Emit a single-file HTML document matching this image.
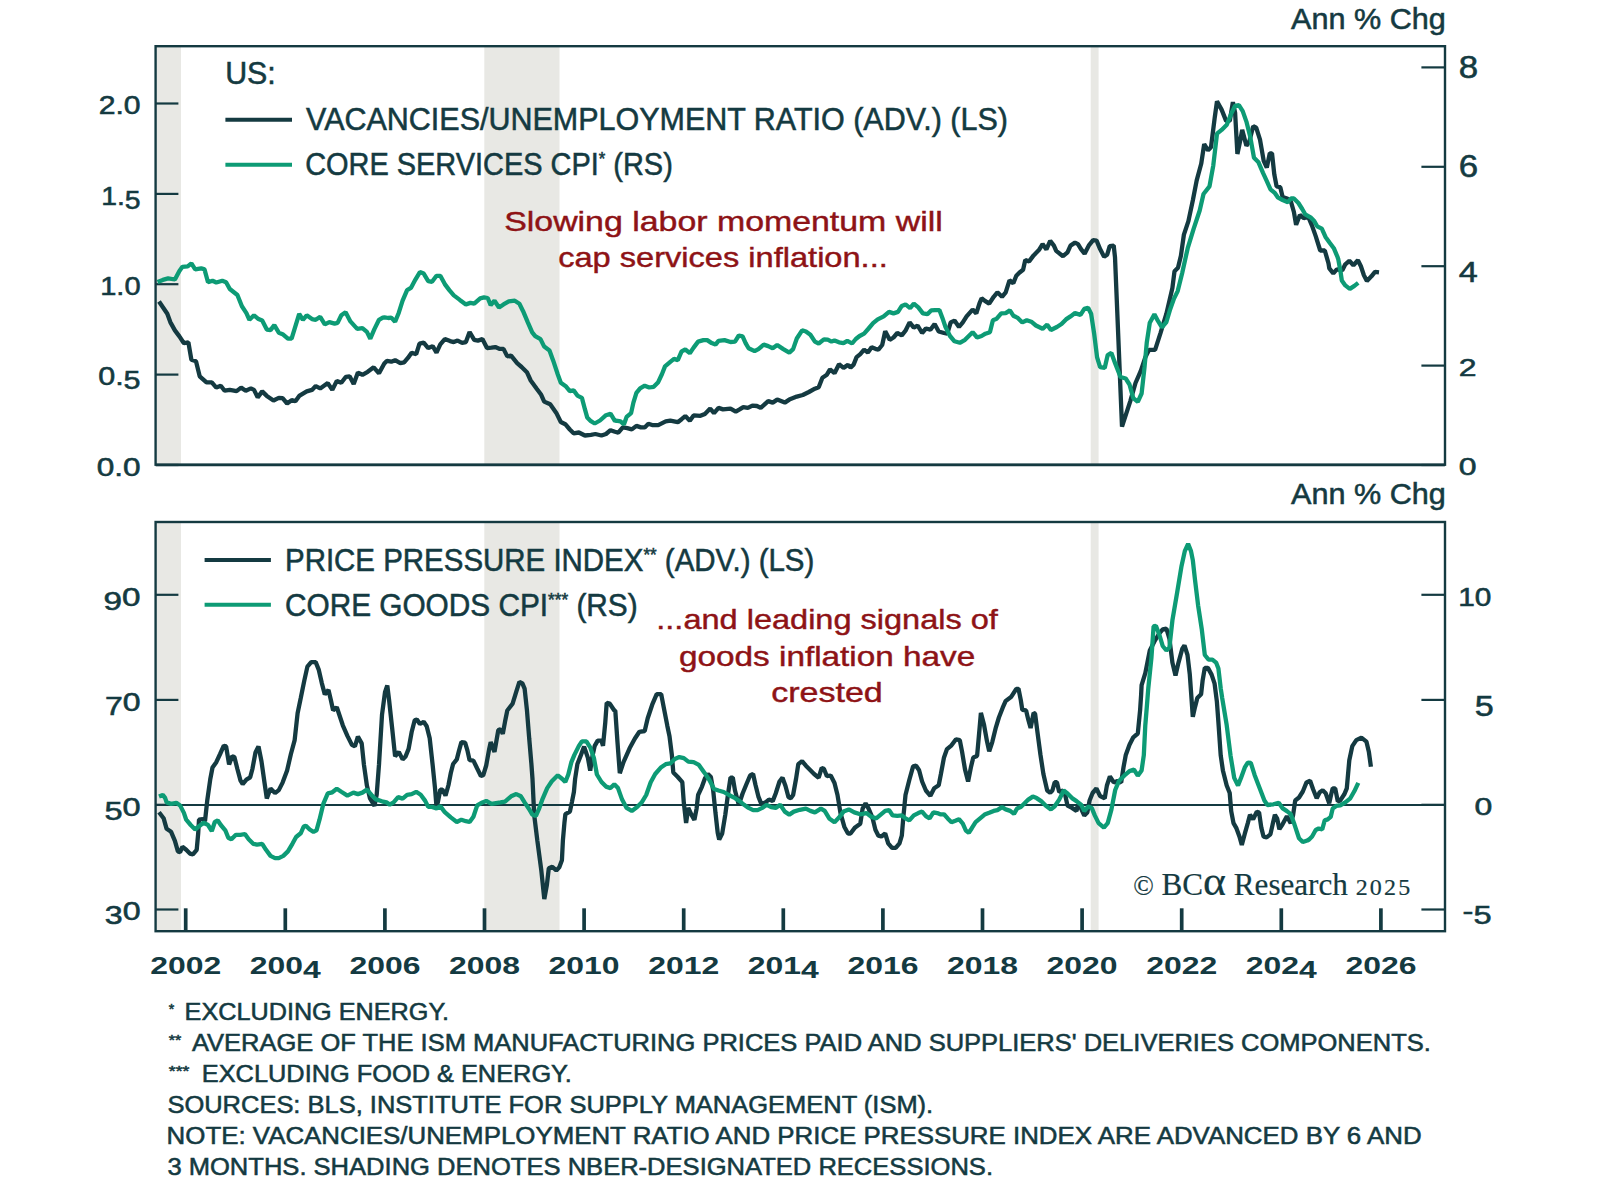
<!DOCTYPE html>
<html lang="en"><head><meta charset="utf-8"><title>US inflation chart</title>
<style>html,body{margin:0;padding:0;background:#fff;overflow:hidden}svg{display:block}text{font-family:"Liberation Sans",sans-serif;fill:#143a41;stroke:#143a41;stroke-width:.55px}.ser{font-family:"Liberation Serif",serif;stroke-width:.2px}.red{fill:#8e1316;stroke:#8e1316;stroke-width:.45px}.b{font-weight:bold;stroke-width:0}.ln{fill:none;stroke-linejoin:bevel;stroke-linecap:butt}</style></head><body>
<svg width="1600" height="1195" viewBox="0 0 1600 1195">
<rect width="1600" height="1195" fill="#fff"/>
<rect x="156.8" y="46.2" width="24.2" height="418.5" fill="#e8e8e4"/>
<rect x="484.3" y="46.2" width="75.2" height="418.5" fill="#e8e8e4"/>
<rect x="1090.7" y="46.2" width="7.9" height="418.5" fill="#e8e8e4"/>
<rect x="156.8" y="522.0" width="24.2" height="409.2" fill="#e8e8e4"/>
<rect x="484.3" y="522.0" width="75.2" height="409.2" fill="#e8e8e4"/>
<rect x="1090.7" y="522.0" width="7.9" height="409.2" fill="#e8e8e4"/>
<line x1="156.0" y1="103.5" x2="178.4" y2="103.5" stroke="#143a41" stroke-width="2.2"/>
<line x1="156.0" y1="193.9" x2="178.4" y2="193.9" stroke="#143a41" stroke-width="2.2"/>
<line x1="156.0" y1="284.2" x2="178.4" y2="284.2" stroke="#143a41" stroke-width="2.2"/>
<line x1="156.0" y1="374.6" x2="178.4" y2="374.6" stroke="#143a41" stroke-width="2.2"/>
<line x1="156.0" y1="465.0" x2="178.4" y2="465.0" stroke="#143a41" stroke-width="2.2"/>
<line x1="156.0" y1="594.8" x2="178.4" y2="594.8" stroke="#143a41" stroke-width="2.2"/>
<line x1="156.0" y1="699.9" x2="178.4" y2="699.9" stroke="#143a41" stroke-width="2.2"/>
<line x1="156.0" y1="804.8" x2="178.4" y2="804.8" stroke="#143a41" stroke-width="2.2"/>
<line x1="156.0" y1="909.5" x2="178.4" y2="909.5" stroke="#143a41" stroke-width="2.2"/>
<line x1="1421.4" y1="67.4" x2="1444.5" y2="67.4" stroke="#143a41" stroke-width="2.2"/>
<line x1="1421.4" y1="166.8" x2="1444.5" y2="166.8" stroke="#143a41" stroke-width="2.2"/>
<line x1="1421.4" y1="266.2" x2="1444.5" y2="266.2" stroke="#143a41" stroke-width="2.2"/>
<line x1="1421.4" y1="365.6" x2="1444.5" y2="365.6" stroke="#143a41" stroke-width="2.2"/>
<line x1="1421.4" y1="465.0" x2="1444.5" y2="465.0" stroke="#143a41" stroke-width="2.2"/>
<line x1="1421.4" y1="594.8" x2="1444.5" y2="594.8" stroke="#143a41" stroke-width="2.2"/>
<line x1="1421.4" y1="699.9" x2="1444.5" y2="699.9" stroke="#143a41" stroke-width="2.2"/>
<line x1="1421.4" y1="804.8" x2="1444.5" y2="804.8" stroke="#143a41" stroke-width="2.2"/>
<line x1="1421.4" y1="909.5" x2="1444.5" y2="909.5" stroke="#143a41" stroke-width="2.2"/>
<line x1="155.6" y1="465.0" x2="1445.0" y2="465.0" stroke="#143a41" stroke-width="2.6"/>
<line x1="155.6" y1="805.0" x2="1445.0" y2="805.0" stroke="#143a41" stroke-width="2.2"/>
<line x1="185.7" y1="908.3" x2="185.7" y2="931.2" stroke="#143a41" stroke-width="3.7"/>
<line x1="285.3" y1="908.3" x2="285.3" y2="931.2" stroke="#143a41" stroke-width="3.7"/>
<line x1="384.9" y1="908.3" x2="384.9" y2="931.2" stroke="#143a41" stroke-width="3.7"/>
<line x1="484.5" y1="908.3" x2="484.5" y2="931.2" stroke="#143a41" stroke-width="3.7"/>
<line x1="584.1" y1="908.3" x2="584.1" y2="931.2" stroke="#143a41" stroke-width="3.7"/>
<line x1="683.7" y1="908.3" x2="683.7" y2="931.2" stroke="#143a41" stroke-width="3.7"/>
<line x1="783.3" y1="908.3" x2="783.3" y2="931.2" stroke="#143a41" stroke-width="3.7"/>
<line x1="882.9" y1="908.3" x2="882.9" y2="931.2" stroke="#143a41" stroke-width="3.7"/>
<line x1="982.5" y1="908.3" x2="982.5" y2="931.2" stroke="#143a41" stroke-width="3.7"/>
<line x1="1082.1" y1="908.3" x2="1082.1" y2="931.2" stroke="#143a41" stroke-width="3.7"/>
<line x1="1181.7" y1="908.3" x2="1181.7" y2="931.2" stroke="#143a41" stroke-width="3.7"/>
<line x1="1281.3" y1="908.3" x2="1281.3" y2="931.2" stroke="#143a41" stroke-width="3.7"/>
<line x1="1380.9" y1="908.3" x2="1380.9" y2="931.2" stroke="#143a41" stroke-width="3.7"/>
<path class="ln" d="M159.0 301.5 L167.3 313.8 L170.3 322.1 L174.9 330.4 L179.4 336.4 L183.9 343.2 L188.4 342.4 L191.4 359.8 L196.0 361.3 L199.7 376.3 L206.5 382.4 L211.8 382.4 L216.3 387.6 L220.8 385.8 L224.6 390.7 L229.8 389.9 L236.6 391.1 L241.1 387.6 L245.7 390.7 L250.9 388.4 L254.0 389.9 L257.7 397.4 L262.2 391.4 L266.8 395.9 L273.5 400.5 L278.8 397.9 L282.6 398.2 L287.1 403.5 L291.6 400.2 L295.4 401.2 L299.2 395.9 L306.7 391.4 L312.0 389.9 L315.7 386.1 L320.2 388.4 L327.8 383.1 L332.3 389.9 L336.8 380.9 L341.3 382.8 L345.9 376.8 L349.6 376.3 L353.7 383.9 L357.9 372.6 L362.4 374.8 L367.7 371.8 L373.7 367.3 L379.0 373.3 L384.3 363.5 L386.8 360.9 L391.3 361.7 L395.1 360.2 L400.3 363.2 L404.1 362.4 L407.9 357.9 L411.6 352.7 L416.2 354.2 L419.5 343.6 L423.7 342.6 L428.2 348.1 L432.7 346.2 L436.5 352.7 L440.3 344.4 L444.8 339.1 L450.1 341.1 L453.8 342.1 L457.6 340.6 L462.1 342.9 L465.9 342.1 L469.6 332.0 L474.2 339.8 L477.9 340.6 L482.4 339.1 L487.0 348.1 L491.5 347.7 L495.3 347.1 L499.8 348.9 L503.5 348.9 L507.3 356.4 L511.1 355.7 L517.1 363.2 L521.6 367.0 L526.9 372.2 L530.7 380.5 L536.7 388.8 L541.2 394.8 L544.2 401.6 L550.2 404.3 L556.3 412.9 L560.8 422.0 L565.3 424.2 L569.8 429.5 L573.6 433.3 L578.9 432.5 L584.9 435.5 L590.9 434.8 L595.4 434.0 L601.5 435.5 L606.0 434.0 L610.5 430.2 L615.0 431.8 L618.3 432.7 L622.8 427.4 L627.3 428.2 L631.8 429.4 L636.4 425.9 L640.9 427.4 L644.7 427.4 L648.4 423.7 L652.9 425.2 L658.2 425.2 L665.7 421.4 L670.3 420.7 L674.0 421.4 L677.8 422.2 L681.6 419.2 L685.3 416.1 L689.8 420.7 L693.6 415.4 L700.4 415.8 L704.9 413.9 L710.2 408.6 L714.0 413.1 L718.5 407.9 L723.0 409.4 L730.5 408.6 L735.8 411.6 L739.6 409.4 L743.3 407.1 L747.9 407.9 L752.4 405.6 L756.9 406.0 L760.7 407.9 L768.2 401.1 L772.7 402.6 L777.2 399.6 L784.8 402.6 L789.3 399.6 L796.8 396.6 L802.8 395.0 L808.9 392.0 L814.9 388.7 L818.7 387.2 L822.4 377.7 L826.9 374.7 L830.0 369.4 L834.5 373.2 L839.0 364.2 L843.5 367.9 L848.0 364.9 L850.5 367.6 L853.6 364.6 L856.6 357.1 L860.3 354.1 L864.1 349.6 L867.9 352.6 L871.6 347.3 L875.4 348.8 L878.4 349.6 L882.2 345.0 L885.2 331.2 L889.7 339.8 L893.5 337.5 L897.3 333.0 L901.8 335.3 L905.5 330.7 L909.6 322.4 L913.8 327.7 L917.6 325.5 L922.1 333.0 L925.9 328.5 L930.4 329.7 L934.6 324.0 L938.7 331.5 L944.0 333.0 L947.3 333.7 L950.7 322.4 L954.5 320.6 L959.0 327.0 L962.8 322.4 L966.6 316.4 L972.6 309.6 L976.3 313.4 L979.4 303.6 L981.6 298.3 L984.6 300.6 L989.2 303.6 L993.7 296.8 L997.4 292.3 L1002.0 296.8 L1005.7 292.3 L1009.5 280.3 L1013.3 283.3 L1016.3 275.7 L1019.3 272.7 L1023.1 269.7 L1025.3 259.9 L1029.1 261.4 L1033.6 255.4 L1038.9 250.1 L1042.6 244.1 L1046.4 249.4 L1050.2 240.8 L1053.9 245.6 L1056.2 250.9 L1063.0 256.2 L1067.5 252.4 L1070.5 245.6 L1075.0 242.6 L1078.0 244.1 L1081.0 249.1 L1084.6 253.7 L1089.1 245.1 L1093.1 240.1 L1096.6 240.6 L1100.1 249.1 L1104.1 256.7 L1107.2 254.7 L1109.7 246.1 L1113.7 245.6 L1115.0 257.2 L1122.0 426.7 L1130.3 401.1 L1135.5 383.0 L1140.8 370.9 L1145.3 357.4 L1149.1 349.8 L1155.1 349.8 L1160.4 333.3 L1166.4 313.7 L1172.4 288.1 L1174.5 271.2 L1178.0 267.7 L1180.9 255.7 L1183.9 234.6 L1188.4 221.1 L1192.9 200.0 L1196.7 180.4 L1201.2 163.8 L1204.2 144.2 L1208.0 150.3 L1211.0 147.3 L1214.8 117.1 L1217.0 101.3 L1221.6 109.6 L1226.1 120.9 L1229.8 120.9 L1232.9 102.1 L1235.1 112.6 L1237.4 154.0 L1240.4 139.7 L1242.2 129.9 L1246.4 145.7 L1249.4 141.2 L1253.2 126.2 L1256.2 127.7 L1260.0 139.7 L1263.7 160.8 L1266.8 167.6 L1269.8 153.3 L1272.0 153.3 L1274.3 174.4 L1276.6 186.4 L1280.3 187.2 L1282.6 197.0 L1287.1 198.5 L1290.9 201.5 L1293.9 212.0 L1296.1 224.8 L1299.9 215.0 L1303.7 218.1 L1308.2 216.6 L1312.0 225.6 L1315.7 236.1 L1320.2 250.5 L1324.8 250.5 L1328.5 263.3 L1329.3 268.3 L1333.3 273.3 L1336.8 269.3 L1342.3 270.3 L1345.3 264.3 L1349.3 260.8 L1353.4 265.3 L1357.9 260.3 L1360.9 266.3 L1363.9 275.3 L1366.9 280.9 L1371.4 276.3 L1375.0 271.8 L1379.0 272.3" stroke="#143a41" stroke-width="4.3"/>
<path class="ln" d="M157.5 281.9 L162.8 279.9 L168.1 278.4 L174.9 279.5 L179.4 270.9 L182.4 266.8 L187.7 266.4 L191.4 263.4 L195.2 269.4 L201.2 268.3 L204.5 269.4 L208.0 282.2 L212.5 280.7 L216.3 282.5 L222.3 280.7 L226.1 282.2 L229.8 289.0 L237.4 295.0 L241.9 306.3 L246.4 313.1 L249.4 319.8 L254.0 315.3 L258.5 319.1 L262.2 320.6 L266.8 329.6 L270.5 330.1 L274.3 325.1 L278.8 332.7 L282.6 334.2 L287.9 338.7 L291.6 338.7 L294.6 328.9 L299.2 313.8 L302.9 319.8 L306.7 315.3 L312.0 319.1 L315.7 319.8 L320.2 316.8 L324.8 324.4 L329.3 322.1 L334.6 323.6 L337.6 322.9 L341.3 315.3 L345.6 312.3 L350.4 321.4 L357.2 328.9 L362.4 328.1 L366.9 331.9 L370.3 338.7 L374.5 328.9 L379.0 319.8 L382.8 317.6 L384.5 317.3 L388.3 318.0 L391.3 317.6 L395.1 321.8 L398.8 312.7 L402.6 300.7 L407.1 290.1 L410.9 287.9 L415.4 279.6 L419.9 272.1 L423.7 273.6 L428.2 281.1 L432.0 281.8 L436.5 275.8 L440.3 275.8 L444.8 284.1 L449.3 290.1 L453.8 295.4 L459.8 299.9 L465.9 304.4 L470.4 302.9 L474.2 303.7 L480.2 298.4 L484.0 297.4 L487.7 298.0 L490.7 305.2 L494.5 300.7 L499.0 307.5 L503.5 304.4 L508.8 301.4 L514.8 300.7 L519.4 303.7 L523.1 311.2 L527.6 321.8 L532.2 332.3 L535.2 336.1 L540.5 339.1 L544.2 346.6 L549.5 350.4 L553.3 360.9 L557.8 374.5 L560.8 382.8 L566.1 386.6 L569.8 391.1 L573.6 390.3 L577.4 395.6 L581.9 397.9 L584.9 409.2 L587.2 417.4 L590.9 421.2 L594.7 423.5 L600.0 420.5 L606.0 415.2 L610.5 413.7 L615.0 421.2 L616.0 420.7 L620.5 421.4 L623.9 424.4 L626.6 416.9 L631.1 413.1 L633.4 402.6 L636.4 392.8 L640.1 388.3 L644.7 385.7 L649.2 387.5 L653.7 386.8 L658.2 382.2 L662.0 374.0 L665.0 366.4 L670.3 361.9 L674.0 358.9 L677.8 360.1 L681.6 351.4 L685.3 349.5 L689.8 353.2 L693.6 347.6 L698.1 341.6 L703.4 340.1 L707.2 340.1 L711.7 343.1 L715.5 344.6 L718.5 340.8 L724.5 340.1 L730.5 342.0 L735.0 341.6 L738.8 335.5 L742.6 336.3 L745.6 343.1 L748.6 348.3 L754.6 351.1 L758.4 349.1 L763.7 344.6 L768.2 346.1 L772.7 348.3 L777.2 345.0 L783.3 349.1 L789.3 352.6 L793.1 349.1 L796.8 338.5 L802.1 330.3 L805.9 331.5 L810.4 334.8 L814.9 341.6 L818.7 343.5 L823.9 339.3 L827.7 339.6 L831.5 341.6 L834.5 340.5 L839.0 342.3 L843.5 343.1 L847.3 340.8 L852.1 343.5 L855.8 339.0 L859.6 336.0 L864.1 333.7 L868.6 328.5 L873.1 323.2 L877.7 319.4 L883.7 316.4 L889.0 311.9 L893.5 313.4 L898.0 311.9 L901.8 305.9 L905.5 304.4 L910.1 308.1 L913.8 303.6 L918.3 307.4 L922.9 313.4 L927.4 314.2 L931.1 310.4 L934.9 310.1 L939.4 310.1 L942.4 317.9 L945.5 327.0 L950.0 336.0 L954.5 341.3 L959.8 342.8 L965.0 339.8 L968.8 336.0 L972.6 332.2 L977.1 337.5 L981.6 336.0 L985.4 333.7 L989.9 332.2 L992.9 320.2 L996.7 318.7 L1001.2 313.4 L1005.7 313.1 L1009.9 310.4 L1013.3 315.7 L1017.8 317.9 L1022.3 322.4 L1026.8 320.2 L1031.3 321.7 L1035.9 325.5 L1042.6 328.8 L1047.2 324.7 L1050.9 330.0 L1056.9 327.0 L1061.5 324.0 L1066.0 319.4 L1070.5 316.4 L1075.0 313.1 L1080.5 314.9 L1084.3 308.9 L1088.1 307.7 L1091.1 313.7 L1094.1 333.3 L1097.1 357.4 L1100.1 367.2 L1104.7 367.9 L1107.7 355.1 L1111.4 352.9 L1115.2 363.4 L1120.5 377.0 L1125.7 378.5 L1129.5 384.5 L1133.3 398.1 L1137.8 401.8 L1141.6 393.5 L1144.6 366.4 L1146.8 342.3 L1149.8 322.7 L1154.4 314.4 L1158.1 321.2 L1161.9 327.3 L1166.4 322.0 L1170.2 309.2 L1174.0 298.6 L1177.7 291.1 L1182.2 273.0 L1187.7 248.2 L1193.7 228.6 L1199.7 210.5 L1203.5 194.0 L1209.5 186.4 L1213.3 165.3 L1217.0 133.7 L1221.6 129.9 L1226.8 124.7 L1231.4 113.4 L1235.1 105.8 L1238.9 105.1 L1242.7 111.1 L1246.4 121.6 L1250.2 136.7 L1254.0 157.8 L1258.5 162.3 L1263.0 172.9 L1266.8 181.1 L1270.5 189.4 L1275.0 193.2 L1278.1 197.7 L1282.6 200.0 L1287.9 202.2 L1290.9 198.5 L1293.9 198.5 L1298.4 203.0 L1302.2 209.0 L1305.2 214.3 L1310.5 217.3 L1314.2 221.1 L1317.2 226.3 L1321.8 228.6 L1325.5 236.9 L1329.3 242.2 L1333.8 248.2 L1337.6 257.2 L1338.3 259.3 L1340.3 270.3 L1341.8 280.4 L1345.3 285.4 L1349.8 288.9 L1354.4 285.9 L1358.2 282.9" stroke="#0d9b75" stroke-width="4.3"/>
<path class="ln" d="M159.0 812.2 L163.6 818.2 L166.6 828.8 L171.1 831.8 L174.9 840.8 L177.9 851.4 L180.1 852.1 L182.4 846.8 L186.2 849.8 L189.9 853.6 L192.9 854.4 L196.7 849.8 L198.2 833.3 L199.0 819.7 L202.7 819.0 L205.0 821.2 L207.3 800.1 L210.3 779.0 L212.5 767.5 L216.3 762.2 L220.1 754.0 L223.8 745.7 L226.1 746.4 L229.1 764.5 L232.1 756.2 L234.4 757.0 L237.4 769.0 L240.4 780.3 L242.7 784.1 L246.4 779.6 L250.2 777.3 L252.4 769.0 L255.5 752.4 L258.5 746.4 L261.5 761.5 L264.5 782.6 L266.8 798.4 L270.5 788.6 L275.0 793.1 L278.8 790.1 L282.6 782.6 L287.1 770.5 L290.9 754.0 L294.6 740.4 L297.6 713.3 L300.7 698.2 L304.4 680.1 L307.4 666.6 L311.2 662.1 L315.7 662.1 L318.7 669.6 L321.8 683.1 L324.8 694.4 L328.5 689.9 L330.8 699.7 L333.1 710.3 L336.8 707.3 L339.8 716.3 L342.8 725.3 L347.4 735.9 L351.9 744.9 L354.9 746.4 L357.9 736.6 L361.7 743.4 L363.9 764.5 L366.9 785.6 L370.0 798.4 L374.5 805.9 L376.7 794.6 L379.0 764.5 L382.0 714.8 L385.0 692.2 L387.3 685.4 L389.0 699.2 L392.1 727.8 L395.1 756.4 L398.8 751.9 L402.6 759.4 L405.6 756.4 L408.6 748.9 L411.6 732.3 L414.7 720.3 L416.9 719.5 L419.9 724.0 L423.7 721.8 L426.7 726.3 L429.7 738.3 L432.7 765.5 L435.0 788.1 L436.5 806.9 L438.0 801.6 L440.3 789.6 L442.5 789.6 L445.5 795.6 L448.5 785.0 L450.8 773.0 L453.1 764.0 L456.8 759.4 L459.1 750.4 L461.4 742.1 L465.1 742.6 L467.4 750.4 L469.6 760.2 L473.4 760.6 L477.2 768.5 L480.9 776.0 L483.2 775.3 L486.2 765.5 L489.2 748.9 L490.7 742.1 L494.5 751.9 L498.3 730.1 L500.5 729.3 L502.8 733.8 L505.0 721.8 L507.3 710.5 L512.6 703.7 L516.3 691.6 L519.4 681.8 L522.4 683.4 L524.6 688.6 L526.9 709.7 L529.2 738.3 L531.4 764.0 L532.5 779.0 L534.2 815.1 L537.3 840.2 L541.3 870.4 L544.3 899.0 L546.8 885.4 L548.8 868.3 L552.3 866.8 L556.3 870.4 L559.3 867.3 L561.9 860.3 L562.9 840.2 L564.4 823.1 L565.4 814.1 L569.9 811.6 L571.9 802.1 L573.9 792.0 L575.1 779.0 L577.4 764.0 L580.4 756.4 L584.1 746.6 L587.9 757.9 L590.2 770.7 L592.4 756.4 L594.7 745.9 L597.7 740.6 L601.5 740.6 L603.0 745.9 L605.2 723.3 L606.7 702.9 L609.8 703.7 L614.3 710.5 L615.3 710.7 L617.5 742.3 L619.8 773.2 L623.6 761.9 L629.6 748.3 L634.9 738.5 L639.4 731.8 L644.7 731.0 L647.7 718.2 L652.2 704.7 L656.7 694.1 L661.2 694.1 L663.5 706.2 L667.3 725.7 L669.5 736.3 L671.8 754.4 L673.3 772.4 L677.8 777.0 L682.3 782.2 L683.8 802.6 L686.1 822.9 L688.3 807.9 L691.4 814.6 L694.4 819.9 L696.6 808.6 L698.1 795.0 L701.9 786.8 L704.9 778.5 L707.9 774.0 L710.9 777.0 L713.2 790.5 L715.5 813.1 L717.7 832.7 L719.2 839.5 L722.2 833.5 L725.3 814.6 L728.3 792.0 L730.5 777.7 L732.8 777.7 L735.0 790.5 L738.8 804.8 L742.6 793.5 L746.3 784.5 L750.1 775.5 L753.1 774.0 L755.4 784.5 L758.4 796.6 L761.4 804.1 L765.2 802.6 L768.9 799.6 L772.7 801.1 L775.7 793.5 L779.5 781.5 L782.5 777.7 L785.5 786.0 L788.5 797.3 L790.8 798.1 L793.1 795.0 L796.1 778.5 L798.3 764.2 L802.1 761.1 L805.9 765.7 L810.4 770.2 L814.1 774.0 L818.7 777.7 L821.7 767.9 L823.9 768.7 L826.9 776.2 L830.7 775.5 L834.5 783.0 L837.5 795.0 L840.5 813.1 L844.3 826.7 L848.0 833.5 L850.5 833.5 L855.1 827.4 L860.3 823.7 L862.6 808.6 L865.6 803.3 L868.6 808.6 L872.4 817.6 L875.4 829.7 L878.4 835.7 L881.4 836.5 L885.2 833.5 L888.2 843.3 L892.0 847.8 L895.7 847.8 L899.5 843.3 L901.8 835.7 L903.3 817.6 L905.5 795.0 L909.3 780.0 L913.1 766.4 L916.1 765.7 L919.1 770.2 L922.1 781.5 L925.9 790.5 L930.4 795.8 L934.2 788.3 L938.7 785.3 L940.9 774.0 L944.0 757.4 L947.0 749.1 L951.5 745.3 L956.0 739.3 L959.8 740.1 L962.0 751.4 L965.0 769.4 L968.1 781.5 L971.1 766.4 L973.3 757.4 L977.1 755.9 L979.4 730.3 L980.9 712.9 L983.9 724.2 L986.9 740.8 L989.2 751.4 L992.2 742.3 L995.9 727.3 L998.9 717.5 L1002.7 707.7 L1005.7 700.9 L1011.0 697.1 L1016.3 688.8 L1018.5 688.8 L1020.8 700.1 L1022.3 709.9 L1026.1 710.4 L1028.3 719.7 L1030.6 728.0 L1033.6 712.9 L1035.1 713.7 L1037.4 731.8 L1040.4 754.4 L1043.4 774.0 L1047.2 790.5 L1050.2 792.8 L1052.4 790.5 L1054.7 782.2 L1056.9 782.2 L1059.2 792.0 L1063.0 790.5 L1065.2 795.0 L1067.5 805.6 L1072.0 807.9 L1076.5 810.9 L1077.5 806.6 L1080.5 807.3 L1084.3 815.6 L1087.3 812.6 L1089.6 800.5 L1092.6 793.0 L1096.4 788.5 L1100.1 796.0 L1104.7 798.3 L1106.9 785.5 L1109.9 776.4 L1113.7 782.4 L1117.5 780.9 L1121.2 782.4 L1123.5 767.4 L1125.7 755.3 L1129.5 744.8 L1133.3 737.3 L1137.8 733.5 L1140.1 710.1 L1141.1 695.1 L1141.6 685.2 L1145.3 673.1 L1149.8 650.5 L1154.4 641.5 L1158.9 634.0 L1162.7 629.4 L1166.4 628.7 L1169.4 638.5 L1172.4 662.6 L1175.5 675.4 L1178.5 662.6 L1182.2 649.0 L1184.5 645.3 L1187.5 655.0 L1189.8 674.6 L1191.3 695.7 L1192.8 716.9 L1195.0 707.1 L1197.3 698.1 L1201.1 694.3 L1202.6 680.7 L1204.8 667.9 L1207.9 667.9 L1211.6 674.6 L1214.6 683.7 L1216.9 701.8 L1218.4 722.2 L1220.7 755.3 L1222.9 770.4 L1226.7 785.5 L1229.7 793.0 L1231.2 811.1 L1233.5 823.1 L1236.5 828.4 L1239.5 836.7 L1241.8 845.0 L1244.8 833.7 L1247.8 823.1 L1250.0 814.8 L1253.1 819.4 L1256.8 811.8 L1259.1 812.6 L1261.3 827.6 L1263.6 836.7 L1266.6 837.4 L1270.4 834.4 L1272.6 824.6 L1274.9 814.8 L1277.2 818.6 L1279.4 829.2 L1282.4 824.6 L1286.9 816.3 L1290.7 823.1 L1293.0 815.6 L1295.2 800.5 L1299.0 797.5 L1302.8 791.5 L1306.5 782.4 L1310.1 780.8 L1313.1 789.3 L1316.7 798.3 L1319.7 792.3 L1322.7 790.3 L1325.7 793.3 L1329.2 803.4 L1331.2 794.3 L1332.7 788.3 L1335.2 788.3 L1337.8 801.4 L1340.3 800.4 L1344.3 794.3 L1346.8 788.3 L1349.3 760.2 L1352.3 746.1 L1356.3 740.1 L1361.4 737.6 L1366.4 741.6 L1368.9 752.1 L1370.9 766.7" stroke="#143a41" stroke-width="4.3"/>
<path class="ln" d="M159.0 796.4 L162.8 794.9 L165.1 797.9 L166.6 802.4 L171.1 803.9 L176.4 802.8 L180.1 805.4 L183.9 812.9 L186.2 819.7 L190.7 825.0 L195.2 829.5 L199.7 825.7 L203.5 822.7 L208.0 825.0 L211.8 831.0 L214.8 822.0 L217.8 820.5 L220.8 825.0 L225.3 830.3 L228.3 837.8 L231.4 839.3 L235.9 834.8 L240.4 834.8 L244.9 834.0 L248.7 839.3 L253.2 843.8 L257.0 844.6 L262.2 843.8 L266.0 849.8 L270.5 855.9 L275.0 858.1 L278.8 858.1 L283.3 855.9 L287.9 851.4 L292.4 843.8 L296.1 837.0 L300.7 833.3 L303.7 826.5 L305.9 825.7 L309.7 829.5 L313.5 831.8 L316.5 830.3 L319.5 819.7 L323.3 803.9 L327.8 793.4 L332.3 792.3 L336.8 788.8 L341.3 791.8 L347.4 795.6 L353.4 792.6 L357.9 794.1 L362.4 792.6 L366.9 789.6 L371.5 794.9 L376.0 799.4 L382.0 801.3 L386.5 802.4 L389.8 804.6 L393.6 802.4 L398.1 797.1 L402.6 798.6 L407.1 794.8 L411.6 794.1 L416.2 791.8 L420.7 794.8 L425.2 800.9 L428.2 806.9 L432.0 806.9 L436.5 808.4 L440.3 806.1 L444.8 812.2 L450.8 817.4 L456.8 822.0 L461.4 819.7 L465.9 821.2 L469.6 822.0 L473.4 816.7 L477.2 805.4 L482.4 802.4 L486.2 800.9 L491.5 803.9 L496.0 803.1 L500.5 802.4 L505.0 801.6 L511.1 796.3 L516.3 794.1 L520.9 796.3 L524.6 802.4 L529.2 809.2 L532.2 814.4 L535.9 815.9 L538.9 809.2 L542.7 798.6 L547.2 788.1 L551.8 781.3 L557.8 775.3 L562.3 779.0 L565.3 782.0 L568.3 774.5 L571.3 762.4 L574.4 754.9 L578.9 745.9 L581.9 741.4 L586.4 741.4 L590.2 747.4 L593.9 757.9 L596.9 774.5 L601.5 782.0 L606.0 786.6 L610.5 788.1 L614.3 784.3 L618.0 788.1 L622.1 799.6 L626.6 807.9 L631.8 810.9 L637.1 807.1 L641.6 802.6 L646.2 795.0 L650.7 782.2 L655.2 774.0 L661.2 767.2 L665.7 764.2 L670.3 763.4 L674.8 758.9 L679.3 757.1 L683.8 758.1 L688.3 761.6 L693.6 762.2 L698.9 764.9 L704.2 772.4 L709.4 780.0 L714.0 789.0 L718.5 790.5 L723.7 792.0 L729.0 795.0 L735.0 798.1 L739.6 801.1 L744.1 804.8 L748.6 807.9 L753.1 810.1 L757.6 810.1 L762.2 807.9 L766.7 804.8 L771.2 807.1 L775.7 807.9 L780.2 804.8 L784.8 811.6 L789.3 814.6 L793.8 811.6 L799.8 809.8 L805.9 808.6 L810.4 810.9 L814.9 812.4 L820.9 808.6 L824.7 810.9 L829.2 818.4 L834.5 822.2 L839.0 817.6 L843.5 811.6 L848.8 809.4 L854.3 812.4 L860.3 814.3 L866.4 813.1 L871.6 816.9 L876.2 818.4 L880.7 814.6 L885.2 810.9 L889.0 810.1 L892.7 815.4 L897.3 815.8 L901.8 815.4 L905.5 818.4 L909.3 820.4 L913.8 815.4 L918.3 813.1 L922.1 811.6 L925.9 816.1 L929.6 818.4 L933.4 812.4 L937.2 813.1 L940.2 814.3 L944.0 814.3 L947.7 818.4 L951.5 822.2 L955.3 820.7 L959.0 819.2 L962.8 823.7 L965.8 830.5 L968.8 832.7 L971.8 828.2 L975.6 822.2 L980.1 818.4 L984.6 814.6 L989.2 812.8 L993.7 810.9 L997.4 810.1 L1002.0 807.1 L1005.7 809.4 L1010.2 810.9 L1014.0 813.9 L1017.0 808.6 L1020.8 807.1 L1024.6 803.3 L1028.3 799.6 L1032.8 796.6 L1036.6 798.1 L1041.1 801.1 L1045.6 805.6 L1050.9 809.4 L1054.7 806.3 L1059.2 799.6 L1063.7 790.5 L1067.5 793.5 L1072.0 798.1 L1076.5 801.1 L1081.3 805.0 L1084.3 811.1 L1088.1 806.6 L1091.8 808.1 L1094.9 815.6 L1098.6 823.1 L1103.9 827.6 L1107.7 823.1 L1111.4 809.6 L1115.2 790.0 L1119.0 780.9 L1124.2 775.7 L1129.5 771.1 L1134.0 769.6 L1137.8 775.7 L1141.6 770.4 L1143.8 755.3 L1145.3 725.2 L1146.8 707.1 L1148.3 688.2 L1151.4 658.1 L1153.6 626.4 L1155.9 625.7 L1159.6 635.5 L1162.7 646.0 L1166.4 650.5 L1169.4 647.5 L1172.4 620.4 L1177.0 593.3 L1181.5 566.2 L1184.8 551.1 L1188.1 543.9 L1191.0 551.1 L1192.8 560.1 L1195.0 579.7 L1198.1 605.3 L1201.8 629.4 L1204.8 655.0 L1208.6 659.6 L1212.4 659.6 L1216.1 662.6 L1218.4 668.6 L1220.7 688.2 L1222.2 698.1 L1226.7 725.2 L1230.5 755.3 L1234.2 777.9 L1238.0 785.5 L1241.0 777.9 L1244.8 767.4 L1247.8 762.6 L1250.8 762.9 L1254.6 774.9 L1259.8 788.5 L1264.4 800.5 L1267.4 805.0 L1273.4 804.3 L1278.7 802.8 L1282.4 808.1 L1286.9 811.1 L1290.7 814.1 L1294.5 824.6 L1299.0 838.2 L1302.8 842.0 L1307.3 840.5 L1309.1 839.5 L1312.1 836.5 L1315.7 830.0 L1318.7 828.5 L1322.2 829.5 L1324.7 820.4 L1327.7 819.4 L1330.7 816.9 L1332.7 808.4 L1336.2 805.9 L1340.3 805.4 L1345.3 802.4 L1350.3 798.3 L1354.3 791.3 L1358.3 782.8" stroke="#0d9b75" stroke-width="4.3"/>
<rect x="155.6" y="46.2" width="1289.4" height="418.5" fill="none" stroke="#143a41" stroke-width="2.4"/>
<rect x="155.6" y="522.0" width="1289.4" height="409.2" fill="none" stroke="#143a41" stroke-width="2.4"/>
<line x1="225.4" y1="119.7" x2="292" y2="119.7" stroke="#143a41" stroke-width="4"/>
<line x1="225.4" y1="164.8" x2="292" y2="164.8" stroke="#0d9b75" stroke-width="4"/>
<line x1="204.6" y1="559.9" x2="270.9" y2="559.9" stroke="#143a41" stroke-width="4"/>
<line x1="204.6" y1="604.8" x2="270.9" y2="604.8" stroke="#0d9b75" stroke-width="4"/>
<text x="98.7" y="114.2" font-size="25.4" textLength="41.9" lengthAdjust="spacingAndGlyphs">2.0</text>
<text x="101.2" y="204.6" font-size="25.4" textLength="39.4" lengthAdjust="spacingAndGlyphs" dy="0,0,4">1.5</text>
<text x="100.2" y="294.9" font-size="25.4" textLength="40.4" lengthAdjust="spacingAndGlyphs">1.0</text>
<text x="98.2" y="385.3" font-size="25.4" textLength="42.4" lengthAdjust="spacingAndGlyphs" dy="0,0,4">0.5</text>
<text x="96.7" y="475.7" font-size="25.4" textLength="43.9" lengthAdjust="spacingAndGlyphs">0.0</text>
<text x="103.6" y="605.5" font-size="25.4" textLength="37.0" lengthAdjust="spacingAndGlyphs" dy="4,-4">90</text>
<text x="105.0" y="710.6" font-size="25.4" textLength="35.6" lengthAdjust="spacingAndGlyphs" dy="4,-4">70</text>
<text x="104.4" y="815.5" font-size="25.4" textLength="36.2" lengthAdjust="spacingAndGlyphs" dy="4,-4">50</text>
<text x="104.8" y="920.2" font-size="25.4" textLength="35.8" lengthAdjust="spacingAndGlyphs" dy="4,-4">30</text>
<text x="1458.8" y="78.0" font-size="30.5" textLength="19.4" lengthAdjust="spacingAndGlyphs">8</text>
<text x="1458.8" y="177.4" font-size="30.5" textLength="19.4" lengthAdjust="spacingAndGlyphs">6</text>
<text x="1458.8" y="281.8" font-size="29.5" textLength="19.0" lengthAdjust="spacingAndGlyphs">4</text>
<text x="1458.8" y="375.8" font-size="24.5" textLength="17.8" lengthAdjust="spacingAndGlyphs">2</text>
<text x="1458.8" y="475.2" font-size="24.5" textLength="17.8" lengthAdjust="spacingAndGlyphs">0</text>
<text x="1458.2" y="605.5" font-size="25.4" textLength="33.2" lengthAdjust="spacingAndGlyphs">10</text>
<text x="1474.8" y="715.5" font-size="29.5" textLength="19.0" lengthAdjust="spacingAndGlyphs">5</text>
<text x="1474.4" y="815.0" font-size="24.5" textLength="17.8" lengthAdjust="spacingAndGlyphs">0</text>
<text x="1462.6" y="920.2" font-size="25.4" textLength="29.0" lengthAdjust="spacingAndGlyphs" dy="0,4">-5</text>
<text x="150.2" y="974.4" font-size="24" textLength="71.0" lengthAdjust="spacingAndGlyphs" class="b">2002</text>
<text x="249.8" y="974.4" font-size="24" textLength="71.0" lengthAdjust="spacingAndGlyphs" class="b" dy="0,0,0,4">2004</text>
<text x="349.4" y="974.4" font-size="24" textLength="71.0" lengthAdjust="spacingAndGlyphs" class="b">2006</text>
<text x="449.0" y="974.4" font-size="24" textLength="71.0" lengthAdjust="spacingAndGlyphs" class="b">2008</text>
<text x="548.6" y="974.4" font-size="24" textLength="71.0" lengthAdjust="spacingAndGlyphs" class="b">2010</text>
<text x="648.2" y="974.4" font-size="24" textLength="71.0" lengthAdjust="spacingAndGlyphs" class="b">2012</text>
<text x="747.8" y="974.4" font-size="24" textLength="71.0" lengthAdjust="spacingAndGlyphs" class="b" dy="0,0,0,4">2014</text>
<text x="847.4" y="974.4" font-size="24" textLength="71.0" lengthAdjust="spacingAndGlyphs" class="b">2016</text>
<text x="947.0" y="974.4" font-size="24" textLength="71.0" lengthAdjust="spacingAndGlyphs" class="b">2018</text>
<text x="1046.6" y="974.4" font-size="24" textLength="71.0" lengthAdjust="spacingAndGlyphs" class="b">2020</text>
<text x="1146.2" y="974.4" font-size="24" textLength="71.0" lengthAdjust="spacingAndGlyphs" class="b">2022</text>
<text x="1245.8" y="974.4" font-size="24" textLength="71.0" lengthAdjust="spacingAndGlyphs" class="b" dy="0,0,0,4">2024</text>
<text x="1345.4" y="974.4" font-size="24" textLength="71.0" lengthAdjust="spacingAndGlyphs" class="b">2026</text>
<text x="1291.0" y="28.8" font-size="30.3" textLength="154.8" lengthAdjust="spacingAndGlyphs">Ann % Chg</text>
<text x="1291.0" y="503.5" font-size="30.3" textLength="154.8" lengthAdjust="spacingAndGlyphs">Ann % Chg</text>
<text x="225.2" y="84.0" font-size="30.5" textLength="50.6" lengthAdjust="spacingAndGlyphs">US:</text>
<text x="306.1" y="130.0" font-size="31.2" textLength="701.8" lengthAdjust="spacingAndGlyphs">VACANCIES/UNEMPLOYMENT RATIO (ADV.) (LS)</text>
<text x="305.2" y="175.0" font-size="31.2" textLength="367.6" lengthAdjust="spacingAndGlyphs">CORE SERVICES CPI<tspan font-size="18" dy="-10">*</tspan><tspan dy="10"> (RS)</tspan></text>
<text x="285.0" y="570.6" font-size="31.2" textLength="529.3" lengthAdjust="spacingAndGlyphs">PRICE PRESSURE INDEX<tspan font-size="18" dy="-10">**</tspan><tspan dy="10"> (ADV.) (LS)</tspan></text>
<text x="285.0" y="615.6" font-size="31.2" textLength="352.6" lengthAdjust="spacingAndGlyphs">CORE GOODS CPI<tspan font-size="18" dy="-10">***</tspan><tspan dy="10"> (RS)</tspan></text>
<text x="504.2" y="230.5" font-size="28.5" textLength="438.6" lengthAdjust="spacingAndGlyphs" class="red">Slowing labor momentum will</text>
<text x="558.2" y="266.5" font-size="28.5" textLength="329.6" lengthAdjust="spacingAndGlyphs" class="red">cap services inflation...</text>
<text x="656.3" y="629.3" font-size="28.5" textLength="341.6" lengthAdjust="spacingAndGlyphs" class="red">...and leading signals of</text>
<text x="679.0" y="665.5" font-size="28.5" textLength="296.3" lengthAdjust="spacingAndGlyphs" class="red">goods inflation have</text>
<text x="771.2" y="701.6" font-size="28.5" textLength="111.6" lengthAdjust="spacingAndGlyphs" class="red">crested</text>
<text class="ser" x="1133.2" y="895" font-size="30.5" textLength="279.4" lengthAdjust="spacingAndGlyphs"><tspan font-size="26.5">©</tspan> BC<tspan font-size="43">α</tspan> Research <tspan font-size="23.5" letter-spacing="2.2">2025</tspan></text>
<text y="1019.7" font-size="24.6"><tspan x="168.8" dy="-6" font-size="15" textLength="5.5" lengthAdjust="spacingAndGlyphs">*</tspan> <tspan x="184.6" dy="6" textLength="264.4" lengthAdjust="spacingAndGlyphs">EXCLUDING ENERGY.</tspan></text>
<text y="1050.8" font-size="24.6"><tspan x="168.8" dy="-6" font-size="15" textLength="12.5" lengthAdjust="spacingAndGlyphs">**</tspan> <tspan x="192.0" dy="6" textLength="1238.8" lengthAdjust="spacingAndGlyphs">AVERAGE OF THE ISM MANUFACTURING PRICES PAID AND SUPPLIERS' DELIVERIES COMPONENTS.</tspan></text>
<text y="1081.8" font-size="24.6"><tspan x="168.8" dy="-6" font-size="15" textLength="20.5" lengthAdjust="spacingAndGlyphs">***</tspan> <tspan x="201.8" dy="6" textLength="370.0" lengthAdjust="spacingAndGlyphs">EXCLUDING FOOD &amp; ENERGY.</tspan></text>
<text x="167.4" y="1112.9" font-size="24.6" textLength="765.8" lengthAdjust="spacingAndGlyphs">SOURCES: BLS, INSTITUTE FOR SUPPLY MANAGEMENT (ISM).</text>
<text x="166.6" y="1143.9" font-size="24.6" textLength="1255.0" lengthAdjust="spacingAndGlyphs">NOTE: VACANCIES/UNEMPLOYMENT RATIO AND PRICE PRESSURE INDEX ARE ADVANCED BY 6 AND</text>
<text x="167.4" y="1175.0" font-size="24.6" textLength="825.6" lengthAdjust="spacingAndGlyphs">3 MONTHS. SHADING DENOTES NBER-DESIGNATED RECESSIONS.</text>
</svg></body></html>
